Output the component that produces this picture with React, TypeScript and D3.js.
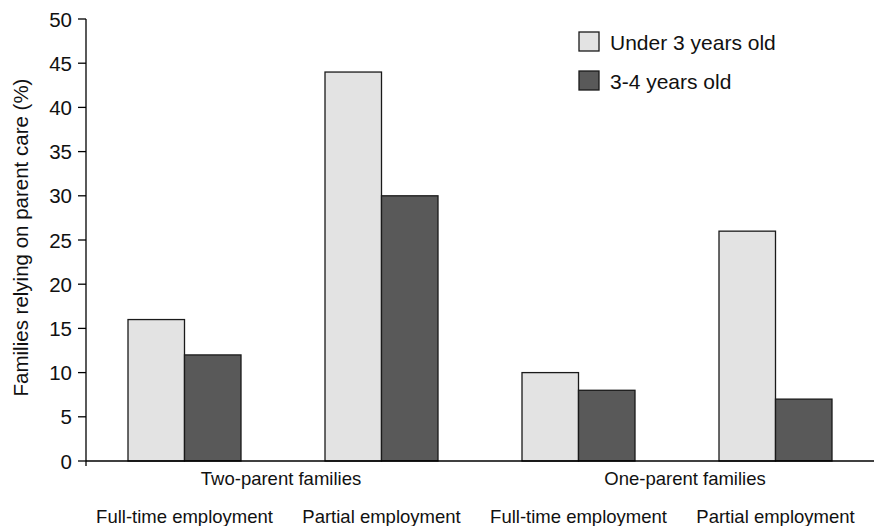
import React from "react";
import * as d3 from "d3";

const categories = ["TP-FT", "TP-PE", "OP-FT", "OP-PE"];
const categoryLabels = ["Full-time employment", "Partial employment", "Full-time employment", "Partial employment"];
const groupLabels = ["Two-parent families", "One-parent families"];
const seriesNames = ["Under 3 years old", "3-4 years old"];
const under3 = [16, 44, 10, 26];
const age34 = [12, 30, 8, 7];
const yTicks = [0, 5, 10, 15, 20, 25, 30, 35, 40, 45, 50];

const W = 874;
const H = 526;
const FONT = "'Liberation Sans', Arial, Helvetica, sans-serif";
const COLORS = ["#e3e3e3", "#595959"];
const groupNudge = [-2, 8];

export default function App() {
  const x0 = d3.scaleBand<string>().domain(categories).range([86, 874]).padding(0);
  const pairW = 113;
  const x1 = d3.scaleBand<string>().domain(seriesNames).range([0, pairW]).padding(0);
  const y = d3.scaleLinear().domain([0, 50]).range([461, 19]);
  const series = [under3, age34];
  const fs = 18.5;
  const fsAxis = 20.5;
  const fsLegend = 21;

  return (
    <svg width={W} height={H} style={{ position: "absolute", left: 0, top: 0, background: "#fff" }} fontFamily={FONT}>
      {/* bars */}
      {categories.map((c, i) => {
        const start = (x0(c) as number) + (x0.bandwidth() - pairW) / 2;
        return series.map((vals, s) => (
          <rect
            key={c + s}
            x={start + (x1(seriesNames[s]) as number)}
            y={y(vals[i])}
            width={x1.bandwidth()}
            height={y(0) - y(vals[i])}
            fill={COLORS[s]}
            stroke="#1a1a1a"
            strokeWidth={1.3}
          />
        ));
      })}
      {/* y axis */}
      <line x1={86} x2={86} y1={y(50)} y2={y(0) + 5} stroke="#000" strokeWidth={1.3} />
      {yTicks.map((t) => (
        <g key={t}>
          <line x1={78} x2={86} y1={y(t)} y2={y(t)} stroke="#000" strokeWidth={1.3} />
          <text x={72} y={y(t)} textAnchor="end" dominantBaseline="central" fontSize={fsAxis} fill="#111">
            {t}
          </text>
        </g>
      ))}
      {/* x axis */}
      <line x1={86} x2={874} y1={y(0)} y2={y(0)} stroke="#000" strokeWidth={1.3} />
      {/* y label */}
      <text
        transform={`translate(20,237.5) rotate(-90)`}
        textAnchor="middle"
        dominantBaseline="central"
        fontSize={fsAxis}
        fill="#111"
      >
        Families relying on parent care (%)
      </text>
      {/* group labels */}
      {groupLabels.map((g, gi) => {
        const a = x0(categories[gi * 2]) as number;
        const b = (x0(categories[gi * 2 + 1]) as number) + x0.bandwidth();
        return (
          <text key={g} x={(a + b) / 2 + groupNudge[gi]} y={478} textAnchor="middle" dominantBaseline="central" fontSize={fs} fill="#111">
            {g}
          </text>
        );
      })}
      {/* category labels */}
      {categories.map((c, i) => (
        <text
          key={c}
          x={(x0(c) as number) + x0.bandwidth() / 2}
          y={516}
          textAnchor="middle"
          dominantBaseline="central"
          fontSize={fs}
          fill="#111"
        >
          {categoryLabels[i]}
        </text>
      ))}
      {/* legend */}
      {seriesNames.map((s, i) => (
        <g key={s} transform={`translate(579,${32 + i * 39})`}>
          <rect x={0} y={0} width={20} height={19} fill={COLORS[i]} stroke="#1a1a1a" strokeWidth={1.3} />
          <text x={31} y={10} dominantBaseline="central" fontSize={fsLegend} fill="#111">
            {s}
          </text>
        </g>
      ))}
    </svg>
  );
}
